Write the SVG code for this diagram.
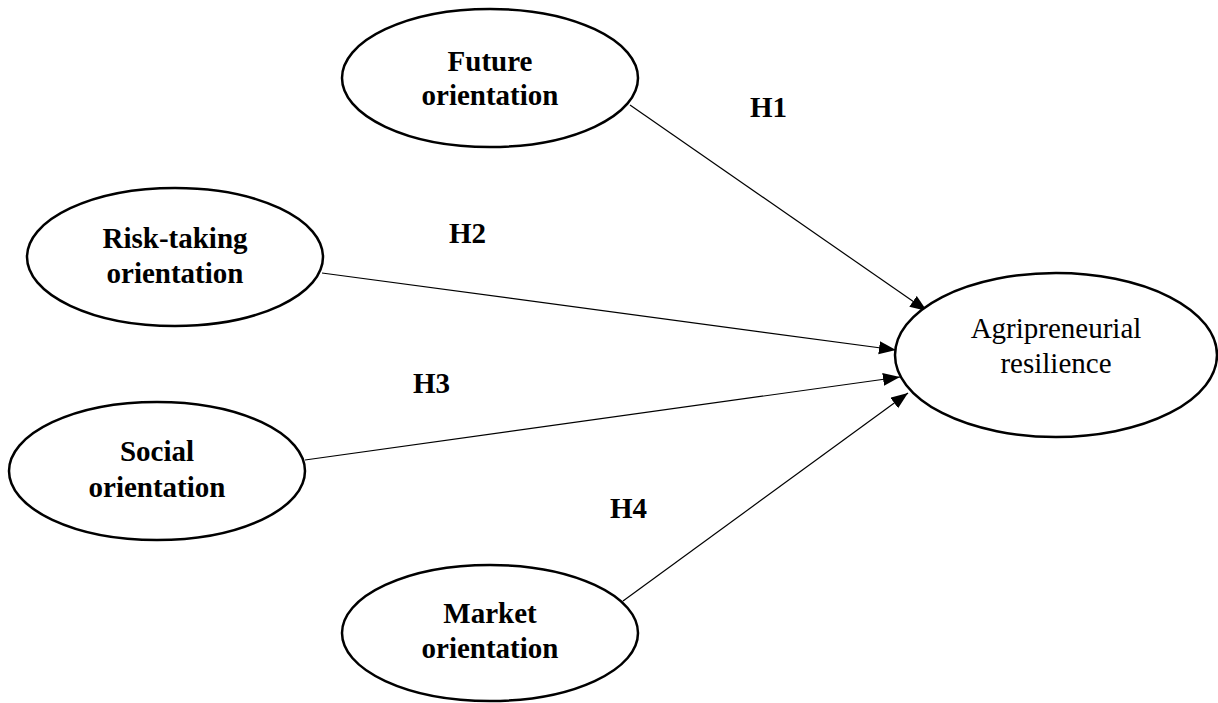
<svg xmlns="http://www.w3.org/2000/svg" width="1218" height="703" viewBox="0 0 1218 703">
<defs>
<style>
.node ellipse{fill:#fff;stroke:#000;stroke-width:2.5}
.b{font-family:"Liberation Serif","Times New Roman",serif;font-weight:bold;font-size:29px;fill:#000;text-anchor:middle}
.r{font-family:"Liberation Serif","Times New Roman",serif;font-size:29px;fill:#000;text-anchor:middle}
.lbl{font-family:"Liberation Serif","Times New Roman",serif;font-weight:bold;font-size:29px;fill:#000}
#connectors line{stroke:#000;stroke-width:1.2;marker-end:url(#arr)}
</style>
<marker id="arr" markerUnits="userSpaceOnUse" markerWidth="18" markerHeight="14" refX="17" refY="6.5" orient="auto">
<path d="M0,0 L17,6.5 L0,13 z" fill="#000"/>
</marker>
</defs>
<rect width="1218" height="703" fill="#fff"/>
<g id="connectors">
<line x1="630" y1="105" x2="927" y2="311"/>
<line x1="322" y1="273" x2="896" y2="350"/>
<line x1="305" y1="460" x2="900" y2="377"/>
<line x1="623" y1="601" x2="908" y2="393"/>
</g>
<g id="labels">
<text class="lbl" x="750" y="117">H1</text>
<text class="lbl" x="449" y="243">H2</text>
<text class="lbl" x="413" y="393">H3</text>
<text class="lbl" x="610" y="518">H4</text>
</g>
<g id="future" class="node">
<ellipse cx="490" cy="78" rx="148" ry="69"/>
<text class="b" x="490" y="71">Future</text>
<text class="b" x="490" y="105">orientation</text>
</g>
<g id="risk" class="node">
<ellipse cx="175" cy="257" rx="148" ry="69"/>
<text class="b" x="175" y="248">Risk-taking</text>
<text class="b" x="175" y="283">orientation</text>
</g>
<g id="social" class="node">
<ellipse cx="157" cy="471" rx="148" ry="69"/>
<text class="b" x="157" y="461">Social</text>
<text class="b" x="157" y="497">orientation</text>
</g>
<g id="market" class="node">
<ellipse cx="490" cy="633" rx="148" ry="68"/>
<text class="b" x="490" y="623">Market</text>
<text class="b" x="490" y="658">orientation</text>
</g>
<g id="resilience" class="node">
<ellipse cx="1056" cy="355" rx="161" ry="82"/>
<text class="r" x="1056" y="338">Agripreneurial</text>
<text class="r" x="1056" y="373">resilience</text>
</g>
</svg>
